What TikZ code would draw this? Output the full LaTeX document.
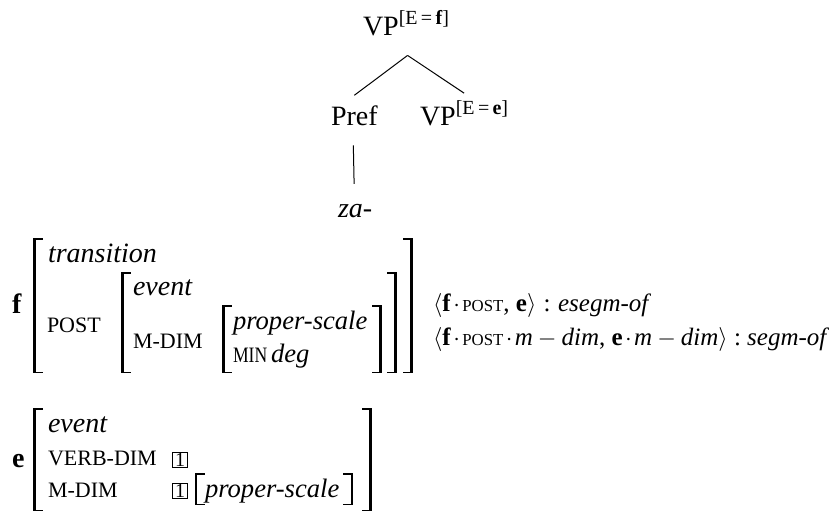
\documentclass[tikz,border=0pt]{standalone}
\usepackage{fontspec}
\setmainfont{Liberation Serif}
\usetikzlibrary{calc}
\newcommand\smc[1]{{\fontsize{11}{13}\selectfont #1}}
\newcommand\smcs[1]{{\fontsize{8.4}{10}\selectfont #1}}
\newcommand\supr[1]{\raisebox{5.5pt}{\fontsize{10}{11}\selectfont [E\,=\,\textbf{#1}]}}
\newcommand\dotop{\hspace{1.2pt}$\cdot$\hspace{1.2pt}}
\newcommand\minus{\hspace{2.5pt}$-$\hspace{2.5pt}}
\newcommand\colsep{\hspace{3.6pt}:\hspace{3.8pt}}
\newcommand\LBr[4][3.2]{\fill (#2,#3) rectangle (#2+#1,#4); \fill (#2,#3) rectangle (#2+10,#3+1.5); \fill (#2,#4-1.5) rectangle (#2+10,#4);}
\newcommand\RBr[4][3.2]{\fill (#2-#1,#3) rectangle (#2,#4); \fill (#2-10,#3) rectangle (#2,#3+1.5); \fill (#2-10,#4-1.5) rectangle (#2,#4);}
\tikzset{
  txt/.style={anchor=base west, inner sep=0pt, outer sep=0pt, font=\fontsize{14}{16}\selectfont},
  sorttxt/.style={txt, font=\fontsize{13.3}{15}\selectfont},
  rtxt/.style={anchor=base west, inner sep=0pt, outer sep=0pt, font=\fontsize{12.5}{14}\selectfont},
  branch/.style={line width=0.5pt},
  tag/.style={draw, line width=0.45pt, inner sep=0pt, minimum size=7.5pt, font=\fontsize{10}{11}\selectfont, anchor=center}
}
\begin{document}
\begin{tikzpicture}[x=0.5pt, y=-0.5pt]
\useasboundingbox (0,0) rectangle (829,511);
% tree
\node[txt] (vpf) at (363,35) {VP\supr{f}};
\node[txt] (pref) at (331,125) {Pref};
\node[txt] (vpe) at (420,125) {VP\supr{e}};
\node[txt] (za) at (338,217) {\textit{za-}};
\coordinate (apex) at ($(vpf.south)+(1.5,20)$);
\draw[branch] (apex) -- ($(pref.north)+(0,-10)$);
\draw[branch] (apex) -- ($(vpe.north)+(0,-7)$);
\draw[branch] ($(pref.south)+(-1,20)$) -- ($(za.north)+(-1,-20)$);
% f AVM
\node[txt] (f) at (12,313) {\textbf{f}};
\node[txt] (trans) at (48,262) {\textit{transition}};
\node[txt] (post) at (47,332) {\smc{POST}};
\node[txt] (event1) at (133,295) {\textit{event}};
\node[txt] (mdim1) at (133,348) {\smc{M-DIM}};
\node[sorttxt] (ps1) at (233,329) {\textit{proper-scale}};
\node[txt] (min) at (233,362) {\scalebox{0.8}[1]{\smc{MIN}}};
\node[sorttxt] (deg) at (271,362) {\textit{deg}};
\LBr{33}{238}{373} \RBr{413}{238}{373}
\LBr{121}{272}{373} \RBr{397}{272}{373}
\LBr{222}{305}{373} \RBr{382}{305}{373}
% relations
\node[rtxt] (c1) at (433,311) {$\langle$\textbf{f}\dotop\smcs{POST}, \textbf{e}$\rangle$\colsep\textit{esegm-of}};
\node[rtxt] (c2) at (433,345) {$\langle$\textbf{f}\dotop\smcs{POST}\dotop\textit{m}\minus\textit{dim}, \textbf{e}\dotop\textit{m}\minus\textit{dim}$\rangle$\ :\ \textit{segm-of}};
% e AVM
\node[txt] (e) at (12,467) {\textbf{e}};
\node[txt] (event2) at (48,432) {\textit{event}};
\node[txt] (vdim) at (48,465) {\smc{VERB-DIM}};
\node[tag] (t1) at (180,459.5) {1};
\node[txt] (mdim2) at (48,497) {\smc{M-DIM}};
\node[tag] (t2) at (180,490.5) {1};
\node[sorttxt] (ps2) at (205,497) {\textit{proper-scale}};
\LBr{33}{408}{511} \RBr{372}{408}{511}
\LBr[2.2]{195}{473}{505} \RBr[2.2]{353}{473}{505}
\end{tikzpicture}
\end{document}
